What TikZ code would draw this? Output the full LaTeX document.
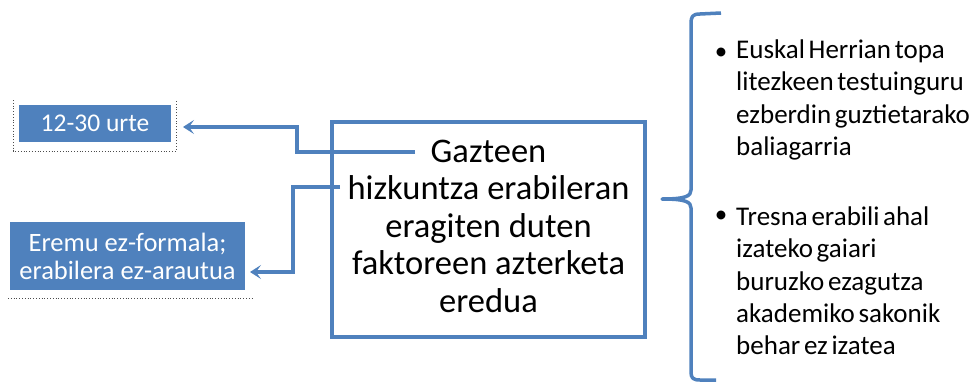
\documentclass[tikz,border=0pt]{standalone}
\usepackage{fontspec}
\setmainfont{Carlito}
\newfontfamily\bulletfont[WordSpace=0.6]{Carlito}
\usetikzlibrary{arrows.meta}
\definecolor{acc}{HTML}{4F81BD}
\tikzset{
  bluebox/.style={fill=acc, text=white, inner sep=0pt, align=center},
  conn/.style={draw=acc, line width=3.5pt, -{Stealth[length=11pt,width=14pt,inset=5pt]}},
  dotframe/.style={draw=black!70, line width=0.8pt, dotted},
  bulletdot/.style={inner sep=0pt, font=\fontsize{25}{28}\selectfont},
  bullettext/.style={anchor=north west, inner sep=0pt, align=left, font=\bulletfont\fontsize{27}{32.3}\selectfont},
}
\begin{document}
\begin{tikzpicture}[x=1pt,y=-1pt]
\useasboundingbox (0,0) rectangle (972,383);
% main box
\node[draw=acc, line width=3.5pt, minimum width=313pt, minimum height=215pt, inner sep=0pt] (main) at (488.5,229.5) {};
\node[align=center, inner sep=0pt, font=\fontsize{34.5}{37.5}\selectfont] (maintext) at (488.5,226)
  {Gazteen\\hizkuntza erabileran\\eragiten duten\\faktoreen azterketa\\eredua};
% left boxes
\node[bluebox, minimum width=152pt, minimum height=37pt, font=\fontsize{25.5}{28}\selectfont] (age) at (95,123.5) {12-30 urte};
\node[bluebox, minimum width=235pt, minimum height=68pt, font=\fontsize{26.5}{28}\selectfont] (scope) at (127.5,256) {Eremu ez-formala;\\erabilera ez-arautua};
% dotted frames
\draw[dotframe] (13,100) -- (13,151) -- (176,151) -- (176,100);
\draw[dotframe] (8,298) -- (253,298);
% connectors
\coordinate (c1) at (415,152);
\coordinate (c2) at (340,187);
\coordinate (a1) at (183,127);
\coordinate (a2) at (250,272);
\draw[conn] (c1) -- (297,152) -- (297,127) -- (a1);
\draw[conn] (c2) -- (293,187) -- (293,272) -- (a2);
% brace
\draw[acc, line width=3.5pt, line join=round]
  (721,13) -- (700,14) .. controls (692,14) and (691,17) .. (691,24) -- (691,190)
  .. controls (691,196) and (686,199) .. (662,199)
  .. controls (686,199) and (691,202) .. (691,208) -- (691,372)
  .. controls (691,378) and (693,380) .. (700,380) -- (716,380);
% bullets
\node[bulletdot] (b1) at (721,54) {•};
\node[bullettext] (t1) at (736,39.5) {Euskal Herrian topa\\litezkeen testuinguru\\ezberdin guztietarako\\baliagarria};
\node[bulletdot] (b2) at (721,217) {•};
\node[bullettext] (t2) at (736,206.5) {Tresna erabili ahal\\izateko gaiari\\buruzko ezagutza\\akademiko sakonik\\behar ez izatea};
\end{tikzpicture}
\end{document}
